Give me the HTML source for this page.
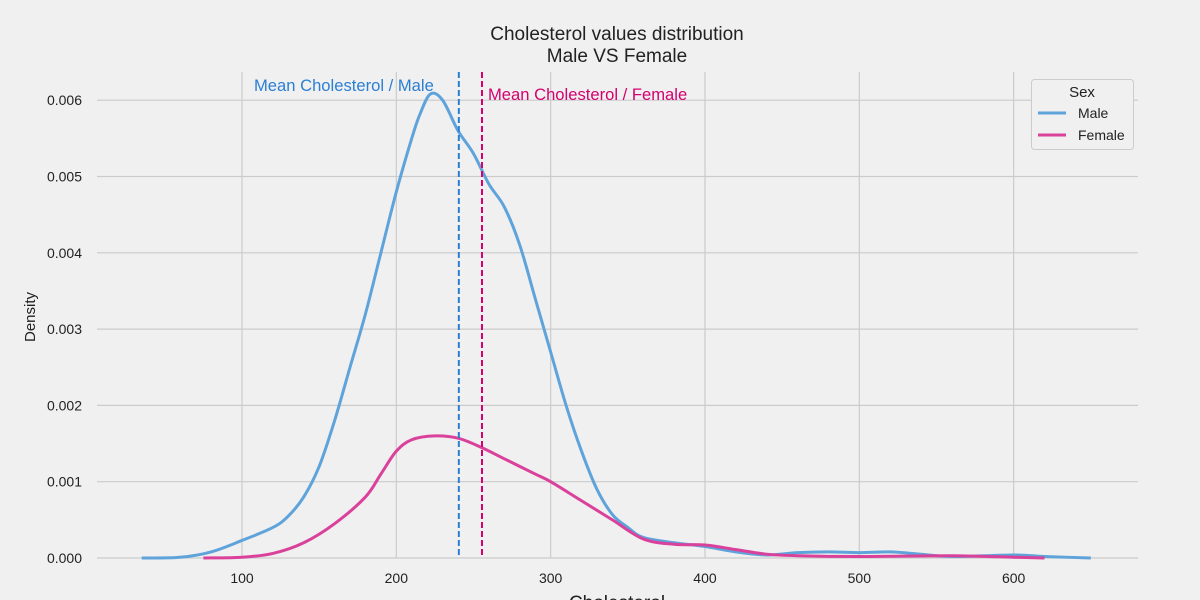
<!DOCTYPE html>
<html><head><meta charset="utf-8"><style>
body{margin:0;background:#f0f0f0;}
svg{display:block;font-family:"Liberation Sans",Arial,sans-serif;}
</style></head><body>
<svg id="c" width="1200" height="600">
<rect width="1200" height="600" fill="#f0f0f0"/>
<g id="grid"></g><g id="ticks"></g><g id="series"></g>
<text x="617" y="40" text-anchor="middle" font-size="19" fill="#222">Cholesterol values distribution</text>
<text x="617" y="62" text-anchor="middle" font-size="19" fill="#222">Male VS Female</text>
<text x="617" y="609" text-anchor="middle" font-size="19" fill="#222">Cholesterol</text>
<text transform="translate(35,317) rotate(-90)" text-anchor="middle" font-size="15" fill="#222">Density</text>
<g>
<rect x="1031.5" y="79.5" width="102" height="70" rx="3" fill="#f0f0f0" stroke="#ccc"/>
<text x="1082" y="97" text-anchor="middle" font-size="15" fill="#222">Sex</text>
<line x1="1038" y1="113" x2="1066" y2="113" stroke="#5fa3db" stroke-width="3"/>
<text x="1078" y="118" font-size="14" fill="#222">Male</text>
<line x1="1038" y1="135" x2="1066" y2="135" stroke="#d9419b" stroke-width="3"/>
<text x="1078" y="140" font-size="14" fill="#222">Female</text>
</g>
</svg>
<script>
const xTicks=[100,200,300,400,500,600];
const yTicks=[0,0.001,0.002,0.003,0.004,0.005,0.006];
const maleX=[35,60,80,100,120,130,140,150,160,170,180,190,200,210,215,222,230,240,250,260,270,280,290,300,310,320,330,340,350,360,380,400,420,440,460,480,500,520,540,560,600,620,650];
const maleY=[0,0.00001,0.00008,0.00023,0.0004,0.00055,0.0008,0.0012,0.0018,0.0025,0.0032,0.004,0.0048,0.0055,0.0058,0.00608,0.006,0.0056,0.0053,0.0049,0.0046,0.0041,0.0034,0.0027,0.002,0.0014,0.0009,0.00057,0.0004,0.00027,0.0002,0.00015,0.00008,0.00004,0.00007,0.00008,0.00007,0.00008,0.00005,0.00002,0.00004,0.00002,0];
const femX=[75,100,120,140,160,180,190,200,210,225,240,255,270,290,300,320,340,360,380,400,420,440,460,500,560,600,620];
const femY=[0,0.00001,0.00006,0.0002,0.00045,0.0008,0.0011,0.0014,0.00155,0.0016,0.00157,0.00145,0.0013,0.0011,0.001,0.00075,0.0005,0.00025,0.00018,0.00017,0.00011,0.00005,0.00003,0.00002,0.00003,0.00001,0];
const means=[240.5,255.5];
const meanLabels=["Mean Cholesterol / Male","Mean Cholesterol / Female"];
const NS="http://www.w3.org/2000/svg";
const sx=v=>242+(v-100)*1.5433;
const sy=v=>558-v*76300;
function mk(t,a,p){const e=document.createElementNS(NS,t);for(const k in a)e.setAttribute(k,a[k]);p.appendChild(e);return e;}
const grid=document.getElementById('grid'),ticks=document.getElementById('ticks'),ser=document.getElementById('series');
yTicks.forEach(v=>{
 const l=mk('line',{x1:97,x2:1138,y1:sy(v),y2:sy(v),stroke:'#cbcbcb','stroke-width':1.2},grid);
 
 
 const t=mk('text',{x:82,y:sy(v)+5,'text-anchor':'end','font-size':14,fill:'#222'},ticks);t.textContent=v.toFixed(3);
 
 
});
xTicks.forEach(v=>{
 const l=mk('line',{x1:sx(v),x2:sx(v),y1:72,y2:558,stroke:'#cbcbcb','stroke-width':1.2},grid);
 
 
 const t=mk('text',{x:sx(v),y:583,'text-anchor':'middle','font-size':14,fill:'#222'},ticks);t.textContent=v;
 
 
});
function path(xs,ys){
 const p=xs.map((x,i)=>[sx(x),sy(ys[i])]);let d='M'+p[0][0]+','+p[0][1];
 for(let i=0;i<p.length-1;i++){const p0=p[Math.max(0,i-1)],p1=p[i],p2=p[i+1],p3=p[Math.min(p.length-1,i+2)];
  d+=' C'+(p1[0]+(p2[0]-p0[0])/6)+','+(p1[1]+(p2[1]-p0[1])/6)+' '+(p2[0]-(p3[0]-p1[0])/6)+','+(p2[1]-(p3[1]-p1[1])/6)+' '+p2[0]+','+p2[1];}
 return d;}
const m=mk('path',{d:path(maleX,maleY),fill:'none',stroke:'#5fa3db','stroke-width':3},ser);


const f=mk('path',{d:path(femX,femY),fill:'none',stroke:'#d9419b','stroke-width':3},ser);


const cols=['#2a7fd4','#d4006e'];
means.forEach((v,i)=>{
 const l=mk('line',{x1:sx(v),x2:sx(v),y1:72,y2:558,stroke:cols[i],'stroke-width':2,'stroke-dasharray':'6,3'},ser);
 
 
 const t=mk('text',i?{x:sx(v)+6,y:100,'font-size':16.6,fill:cols[i]}:{x:sx(v)-25,y:91,'text-anchor':'end','font-size':16.6,fill:cols[i]},ser);
 t.textContent=meanLabels[i];
 
 
});
</script>
</body></html>
